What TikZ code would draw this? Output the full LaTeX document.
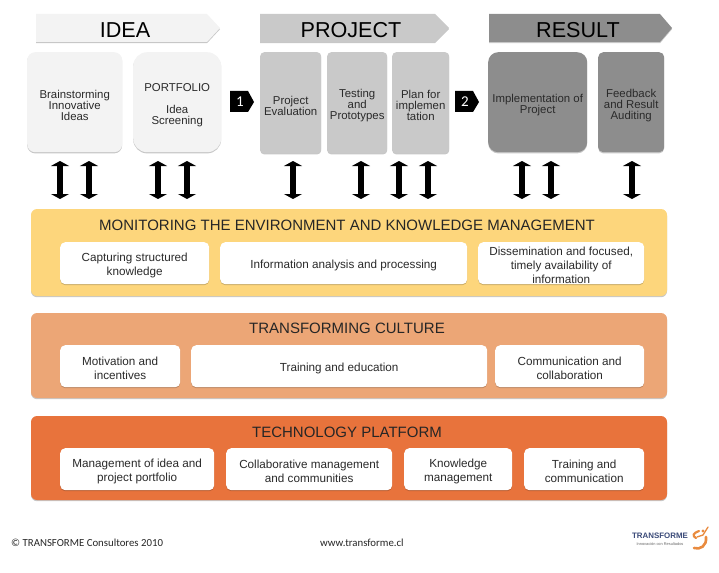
\documentclass[tikz,border=0pt]{standalone}
\usepackage{fontspec}
\setmainfont{Liberation Sans}
\newfontfamily\carlito{Carlito}
\usetikzlibrary{arrows.meta,shadows,shapes.geometric}
\definecolor{cidea}{HTML}{F3F3F3}
\definecolor{cproj}{HTML}{C9C9C9}
\definecolor{cres}{HTML}{8D8D8D}
\definecolor{cyel}{HTML}{FDD67C}
\definecolor{cora}{HTML}{ECA676}
\definecolor{cdark}{HTML}{E8733C}
\definecolor{txt}{HTML}{2A2A2A}
\definecolor{logob}{HTML}{3A4A78}
\definecolor{logoo}{HTML}{E98B3F}
\tikzset{
  x=1pt,y=-1pt,
  softshadow/.style={drop shadow={shadow xshift=0pt,shadow yshift=-1.2pt,opacity=.22,fill=black}},
  phase/.style={draw=none,softshadow},
  phasetext/.style={font=\fontsize{21.6}{24}\selectfont,text=black},
  card/.style={draw=none,softshadow,inner sep=0pt},
  cardtext/.style={align=center,font=\fontsize{11.4}{11}\selectfont,text=txt,inner sep=0pt},
  band/.style={draw=none,softshadow},
  bandtitle/.style={font=\fontsize{15}{17}\selectfont,text=black!85},
  whitebox/.style={draw=none,fill=white,rounded corners=5pt,inner sep=0pt,drop shadow={shadow xshift=0pt,shadow yshift=-1pt,opacity=.2,fill=black}},
  whitetext/.style={align=center,font=\fontsize{11.7}{14}\selectfont,text=txt,inner sep=0pt},
  marker/.style={fill=black,draw=none},
  markertext/.style={text=white,font=\carlito\fontsize{15}{15}\selectfont},
  dbl/.style={draw=black,line width=6.2pt,{Triangle[width=18pt,length=5pt]}-{Triangle[width=18pt,length=5pt]}},
  foot/.style={font=\carlito\fontsize{10.8}{12}\selectfont,text=black!85,anchor=base west,inner sep=0pt},
}
\newcommand{\mkcard}[7]{% name x1 y1 x2 y2 style text
  \node[card,#6,minimum width={(#4-#2)*1pt},minimum height={(#5-#3)*1pt},anchor=north west] (#1) at (#2,#3) {};
  \node[cardtext] (#1t) at ([yshift=-3pt]#1.center) {#7};}
\newcommand{\mkwhite}[6]{%
  \node[whitebox,minimum width={(#4-#2)*1pt},minimum height={(#5-#3)*1pt},anchor=north west] (#1) at (#2,#3) {};
  \node[whitetext] (#1t) at ([yshift=-2.3pt]#1.center) {#6};}
\begin{document}
\begin{tikzpicture}
\useasboundingbox (0,0) rectangle (719,572);
% phase arrows
\fill[phase,cidea] (36,14) -- (207,14) -- (220,28) -- (207,42) -- (36,42) -- cycle;
\node[phasetext] (idea) at (125,30) {IDEA};
\fill[phase,cproj] (260,14) -- (435,14) -- (449,28) -- (435,42) -- (260,42) -- cycle;
\node[phasetext] (project) at (351,30) {PROJECT};
\fill[phase,cres] (489,14) -- (660,14) -- (672,28) -- (660,42) -- (489,42) -- cycle;
\node[phasetext] (result) at (578,30) {RESULT};
% cards
\mkcard{c1}{27}{52}{122}{152}{fill=cidea,rounded corners=8pt}{Brainstorming\\Innovative\\Ideas}
\mkcard{c2}{133}{52}{221}{152}{fill=cidea,rounded corners=14pt}{PORTFOLIO\\[11pt]Idea\\Screening}
\mkcard{c3}{260}{52}{321}{153}{fill=cproj,rounded corners=4pt}{Project\\Evaluation}
\mkcard{c4}{327}{52}{387}{153}{fill=cproj,rounded corners=4pt}{Testing\\and\\Prototypes}
\mkcard{c5}{392}{52}{449}{153}{fill=cproj,rounded corners=4pt}{Plan for\\implemen\\tation}
\mkcard{c6}{488}{52}{587}{152}{fill=cres,rounded corners=10pt}{Implementation of\\Project}
\mkcard{c7}{598}{52}{664}{152}{fill=cres,rounded corners=5pt}{Feedback\\and Result\\Auditing}
% markers
\fill[marker] (230,91) -- (248,91) -- (254,102) -- (248,112) -- (230,112) -- cycle;
\node[markertext] (m1) at (240,102) {1};
\fill[marker] (455,91) -- (473,91) -- (479,102) -- (473,112) -- (455,112) -- cycle;
\node[markertext] (m2) at (465,102) {2};
% double arrows
\foreach \n/\xx in {a/60,b/89,c/158,d/187,e/293,f/361,g/399,h/428,i/522,j/551,k/632}{
  \coordinate (t\n) at (\xx,161);
  \coordinate (u\n) at (\xx,199);
  \draw[dbl] (t\n) -- (u\n);
}
% bands
\fill[band,cyel,rounded corners=6pt] (31,209) rectangle (667,296);
\node[bandtitle] (t1) at (347,225) {MONITORING THE ENVIRONMENT AND KNOWLEDGE MANAGEMENT};
\mkwhite{w11}{60}{242}{209}{284}{Capturing structured\\knowledge}
\mkwhite{w12}{220}{242}{467}{284}{Information analysis and processing}
\mkwhite{w13}{478}{242}{644}{284}{\fontsize{11.7}{12.6}\selectfont Dissemination and focused,\\timely availability of\\information}
\fill[band,cora,rounded corners=6pt] (31,313) rectangle (667,398);
\node[bandtitle] (t2) at (347,328) {TRANSFORMING CULTURE};
\mkwhite{w21}{60}{345}{180}{387}{Motivation and\\incentives}
\mkwhite{w22}{191}{345}{487}{387}{Training and education}
\mkwhite{w23}{495}{345}{644}{387}{Communication and\\collaboration}
\fill[band,cdark,rounded corners=6pt] (31,416) rectangle (667,500);
\node[bandtitle] (t3) at (347,432) {TECHNOLOGY PLATFORM};
\mkwhite{w31}{60}{448}{214}{490}{Management of idea and\\project portfolio}
\mkwhite{w32}{226}{448}{392}{490}{Collaborative management\\and communities}
\mkwhite{w33}{404}{448}{512}{490}{Knowledge\\management}
\mkwhite{w34}{524}{448}{644}{490}{Training and\\communication}
% footer
\node[foot] (f1) at (11,546) {© TRANSFORME Consultores 2010};
\node[foot] (f2) at (320,546) {www.transforme.cl};
\node[font=\fontsize{7.9}{8}\selectfont\bfseries,text=logob,inner sep=0pt] (l1) at (660,536) {TRANSFORME};
\node[font=\fontsize{3.9}{4}\selectfont,text=black!60,inner sep=0pt] (l2) at (660,544) {Innovación con Resultados};
\draw[logoo,line width=2.2pt,line cap=round] (699,531) .. controls (693,533) and (692,536) .. (696,538);
\draw[logoo,line width=2.6pt,line cap=round] (706,537) .. controls (707,546) and (700,550) .. (694,548);
\draw[logoo,line width=1.3pt,line cap=round] (697,537) -- (703,535) -- (708,527);
\fill[logoo] (703,531) circle (1.6);
\end{tikzpicture}
\end{document}
